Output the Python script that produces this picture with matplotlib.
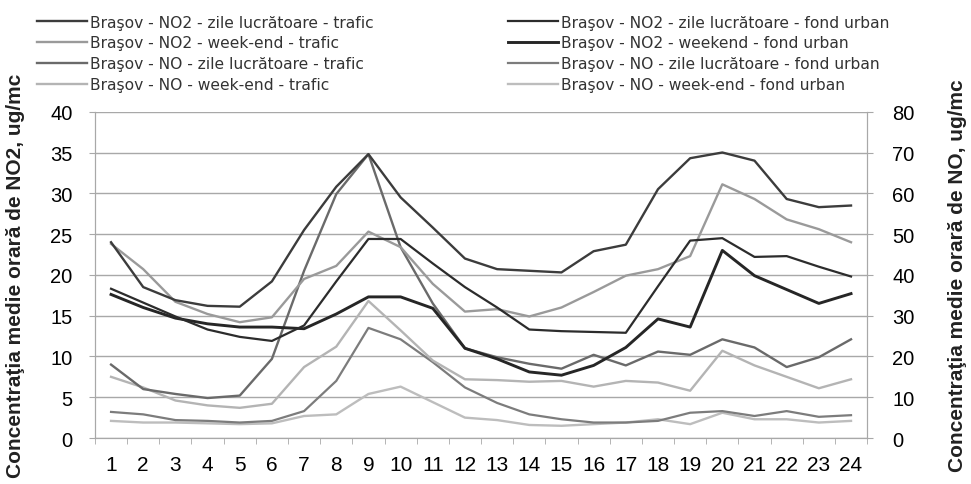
import matplotlib
matplotlib.use("Agg")
import matplotlib.pyplot as plt
from matplotlib.lines import Line2D
from matplotlib.ticker import MultipleLocator

plt.rcParams["font.family"] = ["Liberation Sans", "DejaVu Sans"]

hours = list(range(1, 25))

# NO2, left axis (ug/mc)
no2_luc_trafic = [24.0, 18.5, 16.9, 16.2, 16.1, 19.2, 25.5, 30.8, 34.8, 29.5, 25.8, 22.0,
                  20.7, 20.5, 20.3, 22.9, 23.7, 30.5, 34.3, 35.0, 34.0, 29.3, 28.3, 28.5]
no2_we_trafic = [23.8, 20.7, 16.7, 15.2, 14.2, 14.8, 19.5, 21.1, 25.3, 23.4, 18.9, 15.5,
                 15.8, 14.9, 16.0, 17.9, 19.9, 20.7, 22.3, 31.1, 29.3, 26.8, 25.6, 24.0]
no2_luc_fond = [18.3, 16.6, 14.9, 13.3, 12.4, 11.9, 13.8, 19.2, 24.4, 24.4, 21.4, 18.5,
                16.0, 13.3, 13.1, 13.0, 12.9, 18.6, 24.2, 24.5, 22.2, 22.3, 21.0, 19.8]
no2_we_fond = [17.6, 16.0, 14.7, 14.0, 13.6, 13.6, 13.4, 15.2, 17.3, 17.3, 15.9, 11.0,
               9.7, 8.1, 7.7, 8.9, 11.1, 14.6, 13.6, 23.0, 19.9, 18.2, 16.5, 17.7]

# NO, right axis (ug/mc)
no_luc_trafic = [18.0, 12.0, 10.8, 9.8, 10.4, 19.4, 41.0, 59.8, 69.6, 46.8, 33.0, 22.0,
                 19.8, 18.2, 17.0, 20.4, 17.8, 21.2, 20.4, 24.2, 22.2, 17.4, 19.8, 24.2]
no_we_trafic = [15.0, 12.4, 9.2, 8.0, 7.4, 8.4, 17.4, 22.4, 33.6, 26.4, 19.0, 14.4,
                14.2, 13.8, 14.0, 12.6, 14.0, 13.6, 11.6, 21.4, 17.8, 15.0, 12.2, 14.4]
no_luc_fond = [6.4, 5.8, 4.4, 4.2, 3.8, 4.2, 6.6, 14.0, 27.0, 24.2, 18.6, 12.4,
               8.6, 5.8, 4.6, 3.8, 3.8, 4.2, 6.2, 6.6, 5.4, 6.6, 5.2, 5.6]
no_we_fond = [4.2, 3.8, 3.8, 3.6, 3.4, 3.6, 5.4, 5.8, 10.8, 12.6, 8.8, 5.0,
              4.4, 3.2, 3.0, 3.4, 3.8, 4.6, 3.4, 6.2, 4.6, 4.6, 3.8, 4.2]

labels_left = [
    "Braşov - NO2 - zile lucrătoare - trafic",
    "Braşov - NO2 - week-end - trafic",
    "Braşov - NO - zile lucrătoare - trafic",
    "Braşov - NO - week-end - trafic",
]
labels_right = [
    "Braşov - NO2 - zile lucrătoare - fond urban",
    "Braşov - NO2 - weekend - fond urban",
    "Braşov - NO - zile lucrătoare - fond urban",
    "Braşov - NO - week-end - fond urban",
]

fig = plt.figure(figsize=(9.71, 4.85), dpi=100)
ax = fig.add_axes([0.0978, 0.0948, 0.7952, 0.6728])
ax2 = ax.twinx()

grid_c = "#a8a8a8"
styles = {
    "no2_luc_trafic": ("#3c3c3c", 1.7),
    "no2_we_trafic": ("#9a9a9a", 1.7),
    "no_luc_trafic": ("#6a6a6a", 1.7),
    "no_we_trafic": ("#b4b4b4", 1.7),
    "no2_luc_fond": ("#2c2c2c", 1.6),
    "no2_we_fond": ("#262626", 2.1),
    "no_luc_fond": ("#7c7c7c", 1.6),
    "no_we_fond": ("#bdbdbd", 1.7),
}

# NO on the right axis first, NO2 drawn over them in left-axis data coords
ax2.plot(hours, no_we_fond, color=styles["no_we_fond"][0], lw=styles["no_we_fond"][1])
ax2.plot(hours, no_luc_fond, color=styles["no_luc_fond"][0], lw=styles["no_luc_fond"][1])
ax2.plot(hours, no_we_trafic, color=styles["no_we_trafic"][0], lw=styles["no_we_trafic"][1])
ax2.plot(hours, no_luc_trafic, color=styles["no_luc_trafic"][0], lw=styles["no_luc_trafic"][1])

ax2.plot(hours, no2_we_trafic, color=styles["no2_we_trafic"][0],
         lw=styles["no2_we_trafic"][1], transform=ax.transData)
ax2.plot(hours, no2_we_fond, color=styles["no2_we_fond"][0],
         lw=styles["no2_we_fond"][1], transform=ax.transData)
ax2.plot(hours, no2_luc_fond, color=styles["no2_luc_fond"][0],
         lw=styles["no2_luc_fond"][1], transform=ax.transData)
ax2.plot(hours, no2_luc_trafic, color=styles["no2_luc_trafic"][0],
         lw=styles["no2_luc_trafic"][1], transform=ax.transData)

ax.set_xlim(0.5, 24.5)
ax.set_ylim(0, 40)
ax2.set_ylim(0, 80)
ax.yaxis.set_major_locator(MultipleLocator(5))
ax2.yaxis.set_major_locator(MultipleLocator(10))
ax.grid(axis="y", color=grid_c, lw=1.0)
ax.set_axisbelow(True)

ax.set_xticks(hours)
ax.set_xticklabels([str(h) for h in hours])
ax.set_xticks([h - 0.5 for h in hours] + [24.5], minor=True)
ax.tick_params(axis="x", which="major", length=0, pad=12, labelsize=15)
ax.tick_params(axis="x", which="minor", length=4, color=grid_c, direction="out")
ax.tick_params(axis="y", length=4, color=grid_c, pad=12, labelsize=14.5)
ax2.tick_params(axis="y", length=4, color=grid_c, pad=14, labelsize=14.5)

for a in (ax, ax2):
    a.spines["top"].set_visible(False)
    for s in ("left", "right", "bottom"):
        a.spines[s].set_color(grid_c)

ax.set_ylabel("Concentraţia medie orară de NO2, ug/mc", fontsize=15, fontweight="bold",
              color="#222222", labelpad=18)
ax2.set_ylabel("Concentraţia medie orară de NO, ug/mc", fontsize=15, fontweight="bold",
               color="#222222", labelpad=24)

left_keys = ["no2_luc_trafic", "no2_we_trafic", "no_luc_trafic", "no_we_trafic"]
right_keys = ["no2_luc_fond", "no2_we_fond", "no_luc_fond", "no_we_fond"]


def handles(keys):
    return [Line2D([], [], color=styles[k][0], lw=styles[k][1]) for k in keys]


leg_kw = dict(frameon=False, handlelength=3.2, handletextpad=0.2,
              labelspacing=0.38, borderpad=0, borderaxespad=0, labelcolor="#333333",
              prop={"family": "DejaVu Sans", "size": 11.2})
fig.legend(handles(left_keys), labels_left, loc="upper left",
           bbox_to_anchor=(0.038, 0.968), **leg_kw)
fig.legend(handles(right_keys), labels_right, loc="upper left",
           bbox_to_anchor=(0.523, 0.968), **leg_kw)

fig.savefig("out.png", dpi=100)
